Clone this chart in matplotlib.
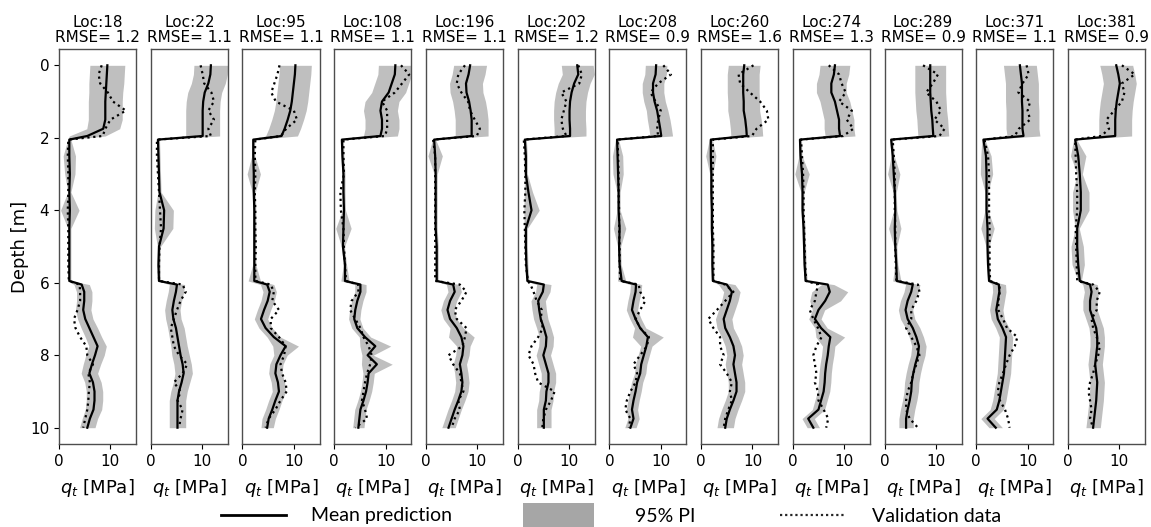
import numpy as np
import matplotlib
matplotlib.use("Agg")
from matplotlib import pyplot as plt
from matplotlib.lines import Line2D
from matplotlib.patches import Rectangle

plt.rcParams['font.family'] = ['DejaVu Sans']
plt.rcParams['mathtext.fontset'] = 'dejavusans'

# depth grid shared by all soundings [m]
DEPTH = [0, 0.25, 0.5, 0.75, 1.0, 1.25, 1.5, 1.75, 1.95,
         2.05, 2.5, 3.0, 3.5, 4.0, 4.5, 5.0, 5.5, 5.95,
         6.05, 6.25, 6.5, 6.75, 7.0, 7.25, 7.5, 7.75, 8.0, 8.25, 8.5, 8.75, 9.0, 9.25, 9.5, 9.75, 10.0]

LOCS = [18, 22, 95, 108, 196, 202, 208, 260, 274, 289, 371, 381]
RMSE = [1.2, 1.1, 1.1, 1.1, 1.1, 1.2, 0.9, 1.6, 1.3, 0.9, 1.1, 0.9]

# mean prediction, half width of 95% PI, validation qt [MPa]
MEAN_18 = [9.4, 9.3, 9.2, 9.1, 9.0, 9.0, 9.0, 8.6, 5.5, 2.0, 2.0, 2.1, 2.0, 2.1, 2.0, 2.0, 2.0, 2.0,
           4.4, 4.9, 4.9, 4.7, 5.1, 5.9, 6.7, 7.5, 7.0, 6.4, 5.9, 6.6, 6.9, 6.9, 6.7, 6.0, 5.5]
PI_18 = [3.4, 3.4, 3.4, 3.3, 3.3, 3.3, 3.3, 3.2, 3.5, 0.3, 1.2, 1.0, 0.3, 1.8, 0.3, 0.3, 0.3, 0.3,
         1.5, 1.5, 1.5, 1.5, 1.5, 1.6, 1.6, 1.7, 1.8, 1.7, 1.6, 1.6, 1.6, 1.6, 1.6, 1.5, 1.5]
VAL_18 = [8.3, 7.7, 8.0, 9.5, 10.5, 13.0, 10.0, 9.0, 8.5, 1.8, 1.7, 1.8, 1.8, 1.7, 1.8, 1.8, 1.8, 1.9,
          4.0, 4.1, 4.1, 3.6, 2.9, 3.2, 4.1, 5.3, 5.5, 6.6, 5.7, 6.0, 5.8, 5.7, 5.5, 5.1, 4.7]

MEAN_22 = [11.7, 11.6, 11.2, 10.5, 10.2, 10.1, 10.1, 10.1, 10.1, 1.4, 1.5, 1.6, 1.7, 2.6, 2.5, 1.6, 1.5, 1.6,
           5.1, 4.9, 4.5, 4.2, 4.4, 4.9, 5.2, 5.5, 5.8, 6.2, 6.4, 6.0, 5.5, 5.2, 5.2, 5.2, 5.2]
PI_22 = [3.3, 3.3, 3.3, 3.3, 3.3, 3.3, 3.3, 3.3, 3.3, 0.3, 0.3, 0.3, 0.3, 1.8, 1.8, 0.3, 0.3, 0.3,
         1.5, 1.5, 1.5, 1.5, 1.5, 1.6, 1.6, 1.6, 1.7, 1.7, 1.7, 1.6, 1.6, 1.6, 1.6, 1.6, 1.6]
VAL_22 = [9.7, 10.1, 10.4, 11.8, 12.3, 11.2, 12.3, 11.2, 11.7, 1.2, 1.2, 1.4, 1.6, 1.8, 2.0, 1.7, 1.6, 1.6,
          6.2, 6.8, 5.8, 5.1, 4.5, 3.9, 4.2, 4.5, 5.5, 7.1, 6.2, 4.5, 5.8, 5.2, 6.2, 5.8, 5.5]

MEAN_95 = [10.3, 10.2, 10.0, 9.8, 9.6, 9.3, 8.8, 8.2, 7.6, 2.1, 2.1, 2.2, 2.2, 2.3, 2.3, 2.3, 2.3, 2.3,
           4.8, 5.3, 4.9, 4.2, 3.6, 4.5, 6.1, 8.4, 7.4, 6.6, 6.4, 6.9, 7.1, 6.4, 5.8, 5.1, 4.8]
PI_95 = [3.1, 3.1, 3.1, 3.1, 3.1, 3.1, 3.1, 3.1, 3.1, 0.3, 0.3, 1.3, 0.3, 0.3, 0.3, 0.3, 0.3, 1.2,
         1.3, 1.3, 1.3, 1.3, 1.3, 1.3, 1.3, 2.5, 1.3, 1.3, 1.3, 1.3, 1.3, 1.3, 1.3, 1.3, 1.2]
VAL_95 = [7.2, 6.8, 6.2, 5.6, 6.5, 10.0, 10.6, 8.5, 7.5, 2.5, 2.4, 2.5, 2.4, 2.5, 2.5, 2.6, 2.5, 2.5,
          5.5, 6.1, 5.8, 7.1, 5.5, 5.5, 7.1, 8.4, 8.1, 7.4, 7.7, 8.4, 8.6, 7.4, 6.4, 5.1, 4.5]

MEAN_108 = [11.9, 11.8, 11.2, 10.6, 9.3, 9.0, 9.3, 9.3, 9.0, 1.5, 1.6, 1.8, 1.8, 1.9, 1.8, 1.7, 2.1, 2.1,
            5.1, 5.1, 4.5, 4.1, 3.9, 4.5, 6.0, 8.0, 6.5, 8.3, 6.7, 6.5, 6.2, 5.7, 5.1, 4.9, 4.7]
PI_108 = [3.3, 3.3, 3.3, 3.3, 3.3, 3.3, 3.3, 3.3, 3.3, 0.3, 0.3, 0.3, 0.3, 0.3, 1.5, 0.3, 0.3, 0.8,
          1.1, 1.1, 1.1, 1.1, 1.1, 1.1, 1.1, 3.0, 1.1, 3.0, 1.1, 1.1, 1.1, 1.1, 1.1, 1.1, 1.1]
VAL_108 = [13.0, 14.6, 13.2, 11.8, 9.3, 10.3, 10.3, 10.3, 9.9, 1.8, 1.8, 1.9, 1.2, 1.3, 1.8, 1.9, 2.1, 2.3,
           4.7, 4.7, 3.4, 3.1, 4.1, 5.1, 5.7, 6.7, 7.3, 7.0, 6.4, 6.0, 5.7, 5.4, 6.0, 6.4, 4.1]

MEAN_196 = [8.6, 8.3, 7.8, 7.9, 8.4, 8.7, 8.9, 8.9, 8.9, 1.6, 1.8, 1.9, 1.9, 1.9, 1.9, 2.1, 2.1, 2.1,
            5.3, 5.6, 4.7, 4.2, 4.7, 6.0, 6.9, 7.3, 7.1, 6.6, 6.9, 7.1, 6.9, 6.3, 5.6, 5.0, 4.4]
PI_196 = [3.2, 3.2, 3.2, 3.2, 3.2, 3.2, 3.2, 3.2, 3.2, 0.3, 1.4, 0.3, 0.3, 0.3, 0.3, 0.3, 0.3, 0.3,
          1.3, 1.3, 1.3, 1.3, 1.3, 1.3, 2.5, 1.3, 1.3, 1.3, 1.3, 1.3, 1.3, 1.3, 1.3, 1.3, 1.3]
VAL_196 = [7.6, 6.3, 6.0, 6.9, 8.2, 8.6, 9.5, 10.5, 9.9, 1.4, 1.8, 1.8, 1.8, 1.8, 1.8, 1.8, 1.8, 1.8,
           6.6, 7.9, 6.9, 5.6, 6.0, 7.9, 7.6, 7.1, 4.4, 5.3, 6.6, 6.9, 7.3, 6.3, 6.6, 5.6, 5.0]

MEAN_202 = [11.6, 11.8, 11.0, 10.5, 10.2, 10.1, 10.1, 10.2, 10.2, 1.4, 1.6, 1.6, 2.1, 2.7, 1.6, 1.6, 1.7, 1.9,
            5.1, 4.9, 4.0, 4.2, 4.5, 5.1, 5.6, 5.5, 5.0, 5.5, 6.0, 6.0, 5.6, 5.5, 5.1, 5.1, 5.1]
PI_202 = [3.1, 3.1, 3.1, 3.1, 3.1, 3.1, 3.1, 3.1, 3.1, 0.3, 0.3, 0.3, 0.8, 1.5, 0.3, 0.3, 0.3, 0.3,
          1.4, 1.4, 1.4, 1.4, 1.4, 1.4, 1.4, 1.4, 1.4, 1.4, 1.4, 1.4, 1.4, 1.4, 1.4, 1.4, 1.4]
VAL_202 = [11.8, 12.5, 12.0, 8.5, 9.5, 9.0, 8.5, 8.8, 9.5, 1.2, 1.4, 1.5, 1.5, 1.3, 1.4, 1.5, 1.6, 2.0,
           2.5, 3.1, 3.7, 4.7, 4.5, 4.9, 4.0, 2.7, 2.1, 3.1, 3.4, 4.0, 7.2, 6.5, 5.5, 5.0, 4.8]

MEAN_208 = [9.1, 9.0, 8.5, 8.5, 8.8, 9.3, 9.6, 9.9, 10.1, 1.5, 1.6, 1.7, 1.8, 1.8, 2.0, 1.9, 2.0, 2.4,
            5.2, 5.1, 4.7, 4.4, 5.1, 6.0, 7.5, 7.2, 6.7, 6.2, 6.0, 5.4, 5.1, 4.7, 4.4, 4.7, 4.1]
PI_208 = [2.1, 2.1, 2.1, 2.1, 2.1, 2.1, 2.2, 2.2, 2.2, 0.3, 1.0, 1.0, 0.3, 0.3, 1.2, 0.3, 0.3, 0.8,
          1.1, 1.1, 1.1, 1.1, 1.1, 1.1, 3.0, 1.1, 1.1, 1.1, 1.1, 1.1, 1.1, 1.1, 1.1, 1.1, 1.1]
VAL_208 = [10.5, 12.0, 9.5, 8.0, 9.0, 10.0, 9.5, 9.3, 9.5, 1.6, 1.7, 1.8, 1.8, 1.9, 1.9, 2.0, 2.0, 2.1,
           5.7, 6.0, 7.0, 6.0, 5.1, 6.0, 7.7, 7.3, 6.0, 4.7, 5.4, 5.1, 4.1, 3.4, 3.1, 4.1, 3.8]

MEAN_260 = [8.4, 8.2, 8.2, 8.2, 8.3, 8.3, 8.6, 8.8, 8.9, 1.9, 1.9, 2.0, 2.0, 2.1, 2.1, 2.2, 2.2, 2.3,
            5.0, 6.0, 5.6, 5.0, 4.4, 4.7, 5.6, 6.3, 6.6, 6.3, 6.6, 6.9, 6.9, 6.3, 5.6, 5.0, 4.7]
PI_260 = [3.1, 3.1, 3.1, 3.1, 3.1, 3.1, 3.1, 3.1, 3.1, 0.3, 1.0, 0.3, 0.3, 0.3, 0.3, 0.3, 0.3, 0.3,
          1.6, 1.6, 1.6, 1.6, 1.6, 1.6, 1.6, 1.6, 1.6, 1.6, 1.6, 1.6, 1.6, 1.6, 1.6, 1.6, 1.6]
VAL_260 = [10.2, 7.3, 7.6, 9.5, 11.5, 12.8, 13.1, 10.8, 9.9, 2.3, 2.3, 2.3, 2.3, 2.3, 2.3, 2.4, 2.4, 2.4,
           4.7, 6.3, 4.7, 3.1, 1.4, 2.4, 3.7, 3.7, 4.4, 3.7, 5.0, 6.0, 5.6, 6.0, 5.3, 4.7, 4.4]

MEAN_274 = [8.2, 8.0, 7.5, 7.5, 8.2, 8.6, 9.0, 9.0, 9.2, 1.4, 1.5, 1.8, 1.9, 1.9, 2.1, 2.2, 2.3, 2.5,
            6.8, 7.2, 6.3, 5.0, 4.3, 5.5, 7.3, 7.0, 6.8, 6.5, 6.3, 6.2, 6.0, 5.5, 5.0, 3.0, 4.0]
PI_274 = [2.9, 2.9, 2.9, 2.9, 2.9, 2.9, 2.9, 2.9, 2.9, 0.3, 0.3, 1.4, 0.3, 0.3, 0.3, 0.3, 0.3, 0.3,
          1.2, 3.5, 3.0, 1.2, 1.2, 1.2, 2.8, 1.2, 1.2, 1.2, 1.2, 1.2, 1.2, 1.2, 1.2, 1.2, 1.2]
VAL_274 = [7.0, 9.0, 9.5, 10.3, 9.0, 11.5, 10.5, 11.8, 9.8, 1.6, 1.8, 2.0, 2.1, 2.1, 2.2, 2.3, 2.4, 2.6,
           4.9, 4.6, 4.3, 3.3, 4.0, 4.9, 5.6, 4.6, 4.0, 4.3, 4.6, 4.3, 4.9, 5.0, 6.0, 6.9, 6.5]

MEAN_289 = [8.9, 8.9, 8.9, 8.9, 9.0, 9.1, 9.3, 9.4, 9.5, 1.3, 1.6, 1.8, 2.0, 2.1, 2.0, 2.1, 2.3, 2.4,
            5.5, 5.2, 4.5, 4.1, 4.5, 5.5, 6.2, 6.7, 6.5, 6.0, 5.6, 5.3, 5.2, 4.9, 4.5, 4.2, 4.2]
PI_289 = [3.0, 3.0, 3.0, 3.0, 3.0, 3.0, 3.0, 3.0, 3.0, 0.3, 0.3, 1.2, 0.3, 0.3, 1.2, 0.3, 0.3, 0.8,
          1.4, 1.4, 1.4, 1.4, 1.4, 1.4, 1.4, 1.4, 1.4, 1.4, 1.4, 1.4, 1.4, 1.4, 1.4, 1.4, 1.4]
VAL_289 = [7.5, 10.4, 9.4, 8.1, 10.1, 11.0, 9.7, 11.7, 10.7, 1.6, 1.8, 2.0, 2.0, 2.0, 2.1, 2.1, 2.2, 2.3,
           6.5, 6.8, 6.2, 5.2, 5.2, 4.2, 5.2, 6.2, 6.8, 6.2, 5.6, 5.2, 4.5, 4.2, 4.2, 4.9, 6.5]

MEAN_371 = [8.5, 8.7, 8.9, 8.9, 8.9, 9.0, 9.0, 9.0, 9.2, 1.4, 1.9, 2.0, 2.0, 2.0, 2.2, 2.2, 2.3, 2.5,
            4.4, 4.5, 4.2, 3.9, 4.2, 5.1, 5.8, 5.7, 5.6, 5.5, 5.4, 5.1, 4.8, 4.5, 4.0, 2.2, 3.8]
PI_371 = [3.2, 3.2, 3.2, 3.2, 3.2, 3.2, 3.2, 3.2, 3.2, 0.3, 1.0, 1.2, 0.3, 0.3, 1.3, 0.3, 0.3, 0.3,
          1.3, 1.3, 1.3, 1.3, 1.3, 1.3, 1.3, 1.3, 1.3, 1.3, 1.3, 1.3, 1.3, 1.3, 1.3, 1.3, 1.3]
VAL_371 = [9.8, 10.2, 9.0, 8.2, 10.5, 10.0, 10.5, 8.3, 7.5, 1.6, 2.3, 2.5, 2.5, 2.5, 2.6, 2.6, 2.6, 2.7,
           4.5, 4.6, 4.3, 4.3, 5.2, 6.0, 8.0, 7.5, 6.5, 5.8, 5.2, 4.5, 4.2, 4.6, 5.6, 6.2, 6.5]

MEAN_381 = [9.4, 9.8, 10.1, 9.8, 9.5, 9.3, 9.2, 9.2, 9.2, 1.4, 2.0, 2.3, 2.5, 2.5, 1.8, 1.8, 2.0, 2.3,
            4.3, 4.6, 4.3, 4.3, 4.9, 5.5, 5.7, 5.7, 5.5, 5.3, 5.5, 5.7, 5.6, 5.5, 5.3, 5.1, 4.9]
PI_381 = [3.2, 3.2, 3.2, 3.2, 3.2, 3.2, 3.2, 3.2, 3.2, 0.3, 1.5, 0.5, 1.6, 1.6, 0.4, 1.2, 1.2, 0.3,
          1.4, 1.4, 1.4, 1.4, 1.4, 1.4, 1.4, 1.4, 1.4, 1.4, 1.4, 1.4, 1.4, 1.4, 1.4, 1.4, 1.4]
VAL_381 = [10.5, 13.0, 10.5, 11.0, 10.5, 9.0, 7.5, 8.0, 6.5, 1.4, 1.5, 1.6, 1.8, 1.8, 1.5, 1.6, 1.7, 1.8,
           4.9, 6.2, 5.6, 5.6, 4.6, 4.9, 5.6, 6.2, 5.9, 5.3, 4.9, 4.3, 4.0, 4.3, 4.6, 4.3, 4.9]

MEANS = [MEAN_18, MEAN_22, MEAN_95, MEAN_108, MEAN_196, MEAN_202,
         MEAN_208, MEAN_260, MEAN_274, MEAN_289, MEAN_371, MEAN_381]
PIS = [PI_18, PI_22, PI_95, PI_108, PI_196, PI_202,
       PI_208, PI_260, PI_274, PI_289, PI_371, PI_381]
VALS = [VAL_18, VAL_22, VAL_95, VAL_108, VAL_196, VAL_202,
        VAL_208, VAL_260, VAL_274, VAL_289, VAL_371, VAL_381]

W, H = 1151, 527
fig, axes = plt.subplots(1, len(LOCS), figsize=(W / 100, H / 100), dpi=100, sharey=True)
plt.subplots_adjust(left=0.0513, right=0.9948, top=0.907, bottom=0.1575, wspace=0.19)

depth = np.array(DEPTH)
for i, ax in enumerate(axes):
    mean = np.array(MEANS[i])
    hw = np.array(PIS[i])
    ax.fill_betweenx(depth, mean - hw, mean + hw, color='grey', alpha=0.5, lw=0)
    ax.plot(mean, depth, color='k', lw=1.6)
    ax.plot(VALS[i], depth, color='k', ls=':', lw=1.6)
    ax.set_xlim(0, 15)
    ax.set_ylim(10.45, -0.45)
    ax.set_xticks([0, 10])
    ax.tick_params(labelsize=11)
    ax.set_title(f"Loc:{LOCS[i]}\nRMSE= {RMSE[i]}", fontsize=11, pad=5, linespacing=1.0)
    ax.set_xlabel("$q_t$ [MPa]", fontsize=13, labelpad=6)
    for sp in ax.spines.values():
        sp.set_color('0.3')
        sp.set_linewidth(1.0)
    if i == 0:
        ax.set_yticks([0, 2, 4, 6, 8, 10])
        ax.set_ylabel("Depth [m]", fontsize=13, labelpad=1)
    else:
        ax.tick_params(axis='y', left=False, labelleft=False)

# legend strip along the bottom
def fx(px):
    return px / W

def fy(py):
    return 1 - py / H

leg_font = dict(family=['Lato', 'DejaVu Sans'], fontsize=14, va='center', ha='left')
fig.add_artist(Line2D([fx(221), fx(286)], [fy(515), fy(515)], color='k', lw=2, transform=fig.transFigure))
fig.text(fx(311), fy(516), "Mean prediction", **leg_font)
fig.add_artist(Rectangle((fx(523), 0), fx(594) - fx(523), fy(503), color='#a6a6a6', lw=0,
                         transform=fig.transFigure))
fig.text(fx(635), fy(516), "95% PI", **leg_font)
fig.add_artist(Line2D([fx(780), fx(845)], [fy(515), fy(515)], color='0.15', lw=1.6, ls=(0, (1, 1.3)),
                      transform=fig.transFigure))
fig.text(fx(872), fy(516), "Validation data", **leg_font)

plt.savefig("out.png", dpi=100)
